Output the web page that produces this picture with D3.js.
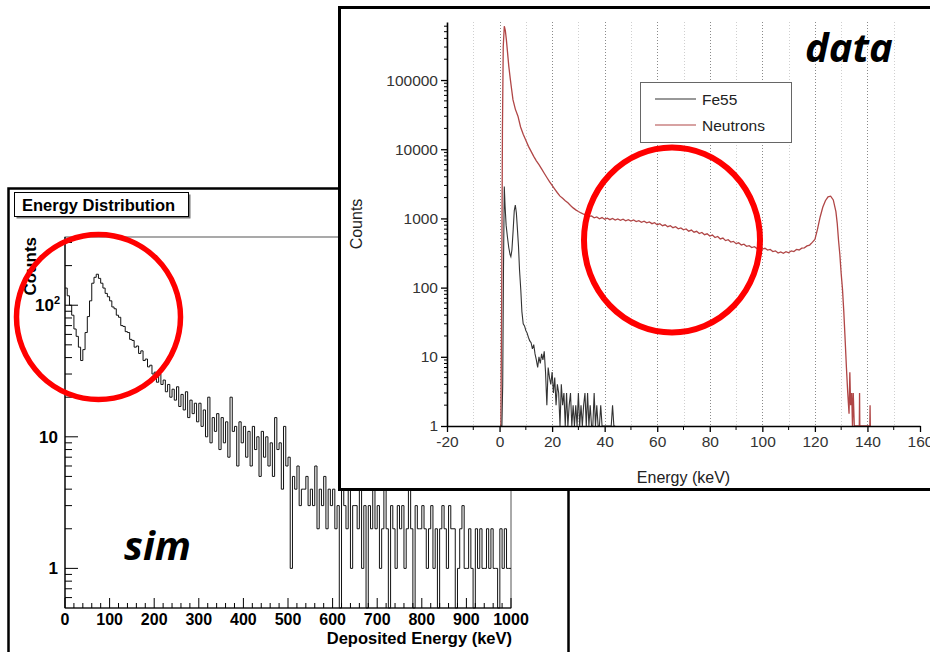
<!DOCTYPE html>
<html>
<head>
<meta charset="utf-8">
<script src="https://cdn.jsdelivr.net/npm/d3@7/dist/d3.min.js"></script>
<style>
body { margin: 0; background: #fff; }
svg { display: block; }
</style>
</head>
<body>
<div id="chart"></div>
<script>
// ---- sim panel: histogram, 5 keV bins from 0 to 1000 keV
var simBinWidth = 5;
var simCounts = [
  135, 118, 100, 84, 66, 58, 48, 38, 46, 62,
  82, 108, 147, 163, 172, 160, 147, 135, 123, 116,
  108, 97, 94, 84, 81, 70, 69, 63, 62, 55,
  54, 48, 49, 43, 45, 38, 39, 34, 35, 30,
  31, 26, 30, 25, 27, 22, 25, 20, 23, 19,
  24, 17, 21, 16, 22, 14, 19, 15, 18, 13,
  18, 12, 16, 10, 20, 9, 14, 11, 15, 8,
  14, 9, 13, 7, 20, 11, 12, 6, 13, 9,
  12, 7, 11, 6, 12, 8, 10, 5, 11, 7,
  10, 6, 9, 5, 14, 8, 9, 4, 12, 6,
  7, 1, 5, 4, 6, 3, 4, 4, 5, 3,
  4, 3, 6, 2, 4, 3, 5, 2, 4, 3,
  4, 2, 3, 0, 4, 3, 2, 4, 1, 3,
  3, 2, 4, 1, 3, 0, 3, 2, 4, 2,
  3, 1, 2, 4, 2, 0, 3, 2, 1, 3,
  2, 3, 1, 2, 4, 2, 0, 3, 2, 2,
  3, 2, 1, 2, 3, 1, 2, 0, 2, 3,
  2, 1, 3, 2, 2, 0, 1, 2, 3, 1,
  1, 2, 1, 0, 2, 1, 2, 1, 1, 2,
  1, 2, 1, 1, 0, 2, 1, 2, 1, 1
];
var simXTicks = [0, 100, 200, 300, 400, 500, 600, 700, 800, 900, 1000];
var simYTicks = [1, 10, 100];

// ---- data panel: measured spectra
var fe55E = [0.3, 0.9, 1.2, 1.5, 1.8, 2.1, 2.5, 3.0, 3.5, 4.0, 4.3, 4.7, 5.2, 5.6, 6.0, 6.4, 6.8, 7.2, 7.6, 8.1,
  8.5, 9, 9.5, 10, 10.5, 11, 11.5, 12, 12.5, 13, 13.5, 14, 14.5, 15, 15.5, 16, 16.5, 17, 17.5, 18,
  18.5, 19, 19.5, 20, 20.5, 21, 21.5, 22, 22.5, 23, 23.5, 24, 24.5, 25, 25.5, 26, 26.5, 27, 27.5, 28,
  28.5, 29, 29.5, 30, 30.5, 31, 31.5, 32, 32.5, 33, 33.5, 34, 34.5, 35, 35.5, 36, 36.5, 37, 37.5, 38,
  38.5, 39, 39.5, 40, 40.5, 41, 41.5, 42, 42.5, 43, 43.5, 44];
var fe55Counts = [1, 1, 4, 200, 2900, 1500, 800, 540, 380, 300, 280, 350, 700, 1300, 1560, 1200, 700, 400, 180, 90,
  45, 30, 28, 24, 22, 19, 17, 16, 13, 15, 11, 9, 7, 10, 8, 11, 9, 12, 6, 2,
  7, 5, 4, 6, 3, 5, 2, 4, 3, 0, 4, 2, 3, 1, 3, 0, 2, 3, 1, 2,
  0, 2, 1, 3, 0, 2, 1, 2, 3, 0, 3, 1, 2, 0, 1, 3, 0, 2, 0, 0,
  2, 0, 0, 0, 0, 0, 0, 0, 0, 2, 0, 0];

var neutronE = [0.2, 0.5, 0.8, 1.1, 1.4, 1.8, 2.2, 2.6, 3.0, 3.5, 4.0, 4.5, 5.1, 6, 7, 8, 9, 10, 11, 12,
  13, 14, 15, 16, 17, 18, 19, 20, 21, 22, 23, 24, 25, 26, 27, 28, 29, 30, 31, 32,
  33, 34, 35, 36, 37, 38, 39, 40, 41, 42, 43, 44, 45, 46, 47, 48, 49, 50, 51, 52,
  53, 54, 55, 56, 57, 58, 59, 60, 61, 62, 63, 64, 65, 66, 67, 68, 69, 70, 71, 72,
  73, 74, 75, 76, 77, 78, 79, 80, 81, 82, 83, 84, 85, 86, 87, 88, 89, 90, 91, 92,
  93, 94, 95, 96, 97, 98, 99, 100, 101, 102, 103, 104, 105, 106, 107, 108, 109, 110, 111, 112,
  113, 114, 115, 116, 117, 118, 119, 120, 121, 122, 123, 124, 125, 126, 127, 128, 128.5, 129, 129.5, 130,
  130.5, 131, 131.5, 132, 132.5, 133, 133.3, 133.6, 134, 134.3, 134.6, 135, 136.9, 137, 137.1, 137.3, 140.9, 141, 141.1, 141.3];
var neutronCounts = [1, 1, 60, 20000, 300000, 600000, 520000, 380000, 260000, 160000, 110000, 78000, 52000, 38000, 30000, 21000, 16500, 13500, 11000, 9300,
  7900, 6800, 6000, 5200, 4500, 3900, 3400, 3000, 2650, 2350, 2100, 1950, 1800, 1680, 1540, 1420, 1330, 1260, 1200, 1150,
  1120, 1070, 1085, 1020, 1050, 990, 1030, 975, 1010, 960, 1000, 945, 985, 940, 975, 925, 960, 915, 950, 900,
  930, 880, 912, 862, 890, 840, 866, 812, 838, 785, 808, 760, 786, 735, 758, 708, 730, 684, 706, 655,
  678, 632, 652, 605, 628, 582, 600, 556, 574, 530, 548, 505, 520, 478, 492, 455, 466, 432, 444, 414,
  424, 396, 404, 380, 390, 366, 382, 360, 370, 348, 356, 332, 340, 316, 328, 314, 330, 318, 340, 332,
  356, 350, 372, 376, 400, 412, 450, 495, 700, 1050, 1450, 1800, 2050, 2100, 1850, 1250, 850, 480, 300, 160,
  95, 45, 18, 7, 3, 1.5, 6, 2, 3, 1, 3, 1, 1, 3, 1, 1, 1, 2, 1, 1];

var dataXTicks = [-20, 0, 20, 40, 60, 80, 100, 120, 140, 160];
var dataGridLines = [-10, 0, 10, 20, 30, 40, 50, 60, 70, 80, 90, 100, 110, 120, 130, 140, 150];
var dataYTicks = [1, 10, 100, 1000, 10000, 100000];
var legendLabels = ["Fe55", "Neutrons"];
var legendColors = ["#333333", "#b04646"];

var svg = d3.select("#chart").append("svg")
  .attr("width", 930).attr("height", 652)
  .attr("viewBox", "0 0 930 652");

svg.append("rect").attr("width", 930).attr("height", 652).attr("fill", "#fff");

var rootFont = "'Liberation Sans', Arial, Helvetica, sans-serif";

// ================= sim panel (ROOT style) =================
var sim = svg.append("g").attr("class", "sim");

sim.append("rect")
  .attr("x", 8.5).attr("y", 188.5).attr("width", 560).attr("height", 480)
  .attr("fill", "#fff").attr("stroke", "#000").attr("stroke-width", 2.5);

var sx = d3.scaleLinear().domain([0, 1000]).range([65, 511]);
var sy = d3.scaleLog().domain([0.5, 330]).range([608, 237]).clamp(true);

// frame
sim.append("rect")
  .attr("x", sx(0)).attr("y", sy(330)).attr("width", sx(1000) - sx(0)).attr("height", sy(0.5) - sy(330))
  .attr("fill", "none").attr("stroke", "#555").attr("stroke-width", 1);
sim.append("line").attr("x1", sx(0)).attr("x2", sx(0)).attr("y1", sy(330)).attr("y2", sy(0.5))
  .attr("stroke", "#000").attr("stroke-width", 1.2);
sim.append("line").attr("x1", sx(0)).attr("x2", sx(1000)).attr("y1", sy(0.5)).attr("y2", sy(0.5))
  .attr("stroke", "#000").attr("stroke-width", 1.2);

// histogram
var simPoints = simCounts.map(function(c, i) { return [i * simBinWidth, c]; });
simPoints.push([simCounts.length * simBinWidth, simCounts[simCounts.length - 1]]);
var simLine = d3.line()
  .x(function(d) { return sx(d[0]); })
  .y(function(d) { return sy(Math.max(d[1], 0.5)); })
  .curve(d3.curveStepAfter);
sim.append("path")
  .attr("d", simLine(simPoints))
  .attr("fill", "none").attr("stroke", "#111").attr("stroke-width", 1);

// x ticks (inward)
var simXMinor = d3.range(0, 1001, 20);
sim.selectAll(".sxminor").data(simXMinor).enter().append("line")
  .attr("x1", function(d) { return sx(d); }).attr("x2", function(d) { return sx(d); })
  .attr("y1", sy(0.5)).attr("y2", function(d) { return sy(0.5) - (d % 100 === 0 ? 10 : 5); })
  .attr("stroke", "#000").attr("stroke-width", 1);
sim.selectAll(".sxlab").data(simXTicks).enter().append("text")
  .attr("x", function(d) { return sx(d); }).attr("y", 625)
  .attr("text-anchor", "middle")
  .style("font-family", rootFont).style("font-weight", "bold").style("font-size", "16px")
  .text(function(d) { return d; });

// y ticks (inward)
var simYMinor = [0.6, 0.7, 0.8, 0.9, 2, 3, 4, 5, 6, 7, 8, 9, 20, 30, 40, 50, 60, 70, 80, 90, 200, 300];
sim.selectAll(".syminor").data(simYMinor).enter().append("line")
  .attr("x1", sx(0)).attr("x2", sx(0) + 7)
  .attr("y1", function(d) { return sy(d); }).attr("y2", function(d) { return sy(d); })
  .attr("stroke", "#000").attr("stroke-width", 1);
sim.selectAll(".symajor").data(simYTicks).enter().append("line")
  .attr("x1", sx(0)).attr("x2", sx(0) + 13)
  .attr("y1", function(d) { return sy(d); }).attr("y2", function(d) { return sy(d); })
  .attr("stroke", "#000").attr("stroke-width", 1);
var syLab = sim.selectAll(".sylab").data(simYTicks).enter().append("text")
  .attr("x", function(d) { return d === 100 ? 60 : 58; })
  .attr("y", function(d) { return sy(d) + 6; })
  .attr("text-anchor", "end")
  .style("font-family", rootFont).style("font-weight", "bold").style("font-size", "17px");
syLab.each(function(d) {
  var t = d3.select(this);
  if (d === 100) {
    t.append("tspan").text("10");
    t.append("tspan").attr("dy", -7).style("font-size", "11px").text("2");
  } else {
    t.text(d);
  }
});

sim.append("text")
  .attr("transform", "translate(36,237) rotate(-90)")
  .attr("text-anchor", "end")
  .style("font-family", rootFont).style("font-weight", "bold").style("font-size", "17px")
  .text("Counts");
sim.append("text")
  .attr("x", 512).attr("y", 644)
  .attr("text-anchor", "end")
  .style("font-family", rootFont).style("font-weight", "bold").style("font-size", "16.5px")
  .text("Deposited Energy (keV)");

// title box
sim.append("rect").attr("x", 16.5).attr("y", 194.5).attr("width", 174).attr("height", 24)
  .attr("fill", "#777");
sim.append("rect").attr("x", 14.5).attr("y", 192.5).attr("width", 174).attr("height", 24)
  .attr("fill", "#fff").attr("stroke", "#000").attr("stroke-width", 1);
sim.append("text")
  .attr("x", 22).attr("y", 210.5)
  .style("font-family", rootFont).style("font-weight", "bold").style("font-size", "16.5px")
  .text("Energy Distribution");

// annotation circle
svg.append("ellipse")
  .attr("cx", 98.5).attr("cy", 317).attr("rx", 82).attr("ry", 82.5)
  .attr("fill", "none").attr("stroke", "#ff0000").attr("stroke-width", 5.5);

// ================= data panel =================
var dat = svg.append("g").attr("class", "data");
dat.append("rect")
  .attr("x", 339.5).attr("y", 7.5).attr("width", 620).attr("height", 482)
  .attr("fill", "#fff").attr("stroke", "#000").attr("stroke-width", 3);

var dx = d3.scaleLinear().domain([-20, 160]).range([447, 920]);
var dy = d3.scaleLog().domain([1, 690000]).range([426, 22]).clamp(true);
var sansFont = "'Liberation Sans', Arial, sans-serif";

// grid
dat.selectAll(".grid").data(dataGridLines).enter().append("line")
  .attr("x1", function(d) { return Math.round(dx(d)) + 0.5; })
  .attr("x2", function(d) { return Math.round(dx(d)) + 0.5; })
  .attr("y1", dy(690000)).attr("y2", dy(1))
  .attr("stroke", function(d) { return d % 20 === 0 ? "#8a8a8a" : "#cfcfcf"; })
  .attr("stroke-width", 1)
  .attr("stroke-dasharray", "1,2");

dat.append("clipPath").attr("id", "plotclip").append("rect")
  .attr("x", dx(-20)).attr("y", dy(690000)).attr("width", dx(160) - dx(-20)).attr("height", dy(1) - dy(690000) + 1);

var dataLine = d3.line()
  .x(function(d) { return dx(d[0]); })
  .y(function(d) { return dy(Math.max(d[1], 1)); });

var fe55Pts = fe55E.map(function(e, i) { return [e, fe55Counts[i]]; });
var neutronPts = neutronE.map(function(e, i) { return [e, neutronCounts[i]]; });

var plot = dat.append("g").attr("clip-path", "url(#plotclip)");
plot.append("path").attr("d", dataLine(neutronPts))
  .attr("fill", "none").attr("stroke", legendColors[1]).attr("stroke-width", 1.3);
plot.append("path").attr("d", dataLine(fe55Pts))
  .attr("fill", "none").attr("stroke", legendColors[0]).attr("stroke-width", 1.1);

// x axis
var xAxis = d3.axisBottom(dx).tickValues(dataXTicks).tickSize(6).tickSizeOuter(0).tickPadding(4)
  .tickFormat(function(d) { return String(d); });
var gx = dat.append("g").attr("transform", "translate(0," + dy(1) + ")").call(xAxis);
dat.selectAll(".xminor").data(d3.range(-10, 160, 20)).enter().append("line")
  .attr("x1", function(d) { return dx(d); }).attr("x2", function(d) { return dx(d); })
  .attr("y1", dy(1)).attr("y2", dy(1) + 4)
  .attr("stroke", "#000").attr("stroke-width", 1);

// y axis
var yAxis = d3.axisLeft(dy).tickValues(dataYTicks).tickFormat(d3.format("d")).tickSize(6).tickSizeOuter(0).tickPadding(3);
var gy = dat.append("g").attr("transform", "translate(" + dx(-20) + ",0)").call(yAxis);
var yMinor = [];
[1, 10, 100, 1000, 10000, 100000].forEach(function(dec) {
  for (var m = 2; m <= 9; m++) { if (dec * m <= 690000) yMinor.push(dec * m); }
});
dat.selectAll(".yminor").data(yMinor).enter().append("line")
  .attr("x1", dx(-20) - 3).attr("x2", dx(-20))
  .attr("y1", function(d) { return dy(d); }).attr("y2", function(d) { return dy(d); })
  .attr("stroke", "#000").attr("stroke-width", 1);

[gx, gy].forEach(function(g) {
  g.select(".domain").attr("stroke", "#000").attr("stroke-width", 1.6);
  g.selectAll(".tick line").attr("stroke", "#000").attr("stroke-width", 1.3);
  g.selectAll(".tick text").attr("fill", "#333")
    .style("font-family", sansFont).style("font-size", "15.5px");
});

dat.append("text")
  .attr("x", (dx(-20) + dx(160)) / 2).attr("y", 483)
  .attr("text-anchor", "middle").attr("fill", "#222")
  .style("font-family", sansFont).style("font-size", "16px")
  .text("Energy (keV)");
dat.append("text")
  .attr("transform", "translate(362," + (dy(1) + dy(690000)) / 2 + ") rotate(-90)")
  .attr("text-anchor", "middle").attr("fill", "#222")
  .style("font-family", sansFont).style("font-size", "16px")
  .text("Counts");

// legend
var leg = dat.append("g");
leg.append("rect").attr("x", 640.5).attr("y", 82.5).attr("width", 151).attr("height", 60)
  .attr("fill", "#fff").attr("stroke", "#666").attr("stroke-width", 1);
legendLabels.forEach(function(lab, i) {
  var yy = 99 + i * 26;
  leg.append("line").attr("x1", 655).attr("x2", 696).attr("y1", yy).attr("y2", yy)
    .attr("stroke", legendColors[i]).attr("stroke-width", 1.2);
  leg.append("text").attr("x", 702).attr("y", yy + 5.5).attr("fill", "#222")
    .style("font-family", sansFont).style("font-size", "15.5px")
    .text(lab);
});

// annotation circle
svg.append("ellipse")
  .attr("cx", 672).attr("cy", 240).attr("rx", 88).attr("ry", 92.5)
  .attr("fill", "none").attr("stroke", "#ff0000").attr("stroke-width", 6);

// panel labels
var labelFont = "'Open Sans', 'Noto Sans', sans-serif";
svg.append("text").attr("x", 805).attr("y", 62)
  .style("font-family", labelFont).style("font-weight", "bold").style("font-style", "italic").style("font-size", "40px")
  .text("data");
svg.append("text").attr("x", 124).attr("y", 560)
  .style("font-family", labelFont).style("font-weight", "bold").style("font-style", "italic").style("font-size", "40px")
  .text("sim");
</script>
</body>
</html>
